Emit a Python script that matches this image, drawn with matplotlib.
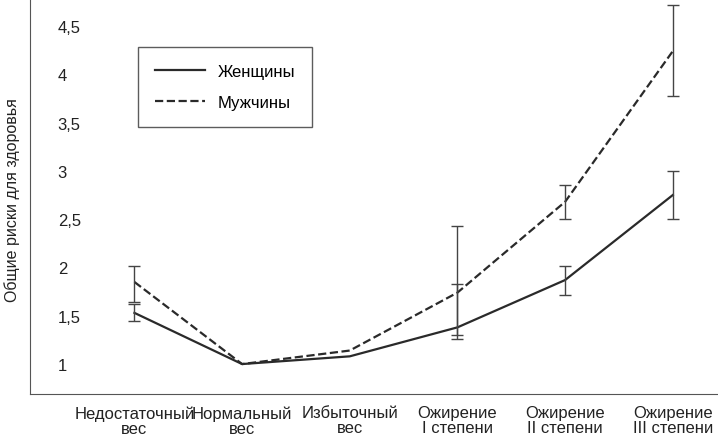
import matplotlib
matplotlib.use("Agg")
import matplotlib.pyplot as plt
import numpy as np

categories = ["Недостаточный\nвес", "Нормальный\nвес", "Избыточный\nвес",
              "Ожирение\nI степени", "Ожирение\nII степени", "Ожирение\nIII степени"]
women = [1.53, 1.0, 1.08, 1.38, 1.87, 2.75]
women_lo = [1.45, 1.0, 1.08, 1.26, 1.71, 2.50]
women_hi = [1.62, 1.0, 1.08, 1.83, 2.02, 3.00]
men = [1.85, 1.0, 1.14, 1.74, 2.68, 4.24]
men_lo = [1.64, 1.0, 1.14, 1.30, 2.50, 3.78]
men_hi = [2.02, 1.0, 1.14, 2.43, 2.85, 4.72]
yticks = [1, 1.5, 2, 2.5, 3, 3.5, 4, 4.5]
ytick_labels = ["1", "1,5", "2", "2,5", "3", "3,5", "4", "4,5"]

plt.rcParams['font.family'] = ['Liberation Sans', 'DejaVu Sans']
fig = plt.figure(figsize=(7.18, 4.35), dpi=100)
ax = fig.add_axes([30/718, 40/435, 688/718, 395/435])
x = np.arange(len(categories))
c = '#2a2a2a'
ax.plot(x, women, '-', color=c, lw=1.6, label='Женщины')
ax.plot(x, men, '--', color=c, lw=1.6, label='Мужчины')
for i in [0, 3, 4, 5]:
    for lo, hi, v in [(women_lo, women_hi, women), (men_lo, men_hi, men)]:
        ax.errorbar(x[i], v[i], yerr=[[v[i]-lo[i]], [hi[i]-v[i]]], fmt='none',
                    ecolor='#444', elinewidth=1, capsize=4, capthick=1)
ax.set_xlim(-0.97, 5.42)
ax.set_ylim(0.69, 4.78)
ax.set_yticks(yticks)
ax.set_yticklabels(ytick_labels)
ax.tick_params(axis='y', length=0, pad=-20, labelsize=12, labelcolor='#222')
for lab in ax.get_yticklabels():
    lab.set_horizontalalignment('left')
ax.set_xticks(x)
ax.set_xticklabels(categories, fontsize=12, color='#222', linespacing=1.0)
ax.tick_params(axis='x', length=0, pad=8)
ax.spines['top'].set_visible(False)
ax.spines['right'].set_visible(False)
ax.spines['left'].set_color('#555')
ax.spines['bottom'].set_color('#555')
fig.text(12/718, 1-200/435, 'Общие риски для здоровья', rotation=90, fontsize=11.5,
         color='#222', ha='center', va='center')
leg = ax.legend(loc='upper left', bbox_to_anchor=(0.145, 0.9), fontsize=12, frameon=True,
                fancybox=False, edgecolor='#333', handlelength=3, borderpad=1.0, labelspacing=1.0)
leg.get_frame().set_linewidth(1)
fig.savefig('out.png', dpi=100)
